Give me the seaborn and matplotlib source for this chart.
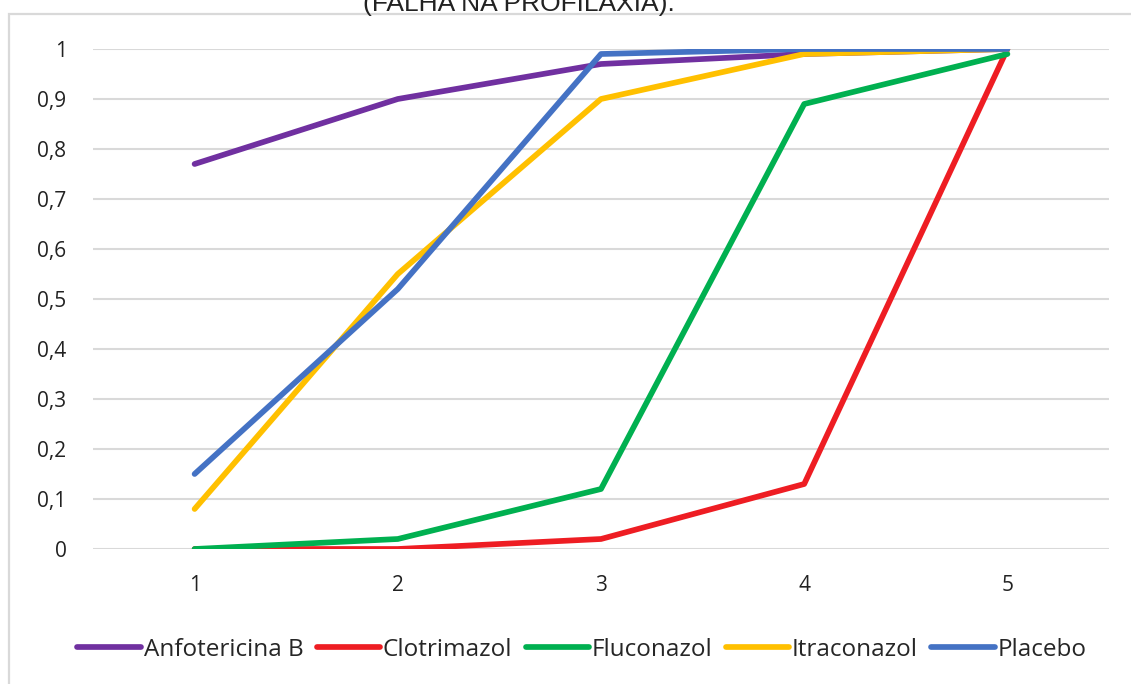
import matplotlib.pyplot as plt
import matplotlib.patches as mpatches
import matplotlib.ticker as mticker
import seaborn as sns
import pandas as pd

# Dados (proporção acumulada de falha na profilaxia)
tempos = [1, 2, 3, 4, 5]
anfotericina_b = [0.77, 0.90, 0.97, 0.99, 1.00]
clotrimazol = [0.00, 0.00, 0.02, 0.13, 1.00]
fluconazol = [0.00, 0.02, 0.12, 0.89, 0.99]
itraconazol = [0.08, 0.55, 0.90, 0.99, 1.00]
placebo = [0.15, 0.52, 0.99, 1.00, 1.00]

series = ['Anfotericina B', 'Clotrimazol', 'Fluconazol', 'Itraconazol', 'Placebo']
cores = ['#7030A0', '#EE1D23', '#00B050', '#FFC000', '#4472C4']
titulo = '(FALHA NA PROFILAXIA).'

df = pd.DataFrame({
    'tempo': tempos * 5,
    'valor': anfotericina_b + clotrimazol + fluconazol + itraconazol + placebo,
    'grupo': [s for s in series for _ in tempos],
})

sns.set_theme(style="white")
plt.rcParams['font.family'] = ['Open Sans', 'DejaVu Sans']

fig = plt.figure(figsize=(11.31, 6.84), dpi=100)
ax = fig.add_axes([93 / 1131, 1 - 549 / 684, (1109 - 93) / 1131, 500 / 684])

sns.lineplot(data=df, x='tempo', y='valor', hue='grupo', hue_order=series,
             palette=cores, linewidth=4.1, ax=ax, legend=False,
             solid_capstyle='round', solid_joinstyle='round')

ax.set_xlim(0.5, 5.5)
ax.set_ylim(0, 1)
ax.set_xticks(tempos)
ax.set_yticks([i / 10 for i in range(11)])
ax.yaxis.set_major_formatter(mticker.FuncFormatter(
    lambda v, p: '0' if v == 0 else ('1' if abs(v - 1) < 1e-9 else f'{v:.1f}'.replace('.', ','))))
ax.tick_params(axis='y', length=0, pad=19, labelsize=15, labelcolor='#222222')
ax.tick_params(axis='x', length=0, pad=19, labelsize=15, labelcolor='#222222')
ax.set_xlabel('')
ax.set_ylabel('')
ax.grid(axis='y', color='#D9D9D9', linewidth=1.5)
ax.set_axisbelow(True)
for s in ax.spines.values():
    s.set_visible(False)

# moldura do gráfico (cortada na imagem original)
fig.patches.append(mpatches.Rectangle((9 / 1131, -0.2), 1.2, 1.2 - 14 / 684,
                                      transform=fig.transFigure, fill=False,
                                      edgecolor='#D9D9D9', linewidth=1.6))

fig.text(519 / 1131, 1 - 11 / 684, titulo, ha='center', va='baseline',
         fontsize=19, family=['Liberation Sans', 'DejaVu Sans'], color='#222222')

handles = [plt.Line2D([], [], color=c, linewidth=4.1, solid_capstyle='round') for c in cores]
fig.legend(handles, series, loc='center', bbox_to_anchor=(582 / 1131, 1 - 650 / 684),
           ncol=5, frameon=False, handlelength=2.6, handletextpad=0.12,
           columnspacing=0.55, prop={'size': 17.5})

plt.savefig('out.png', dpi=100)
